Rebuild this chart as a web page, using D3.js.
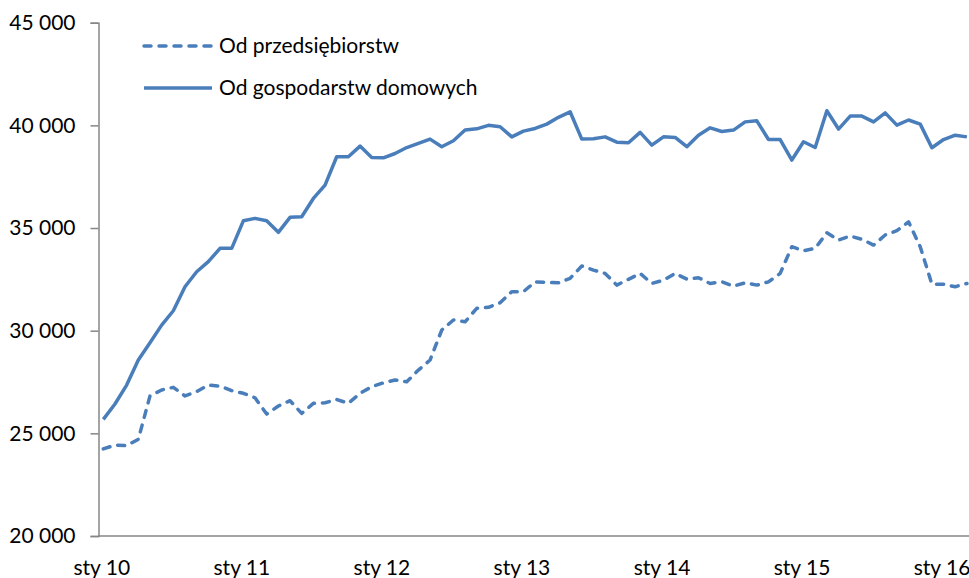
<!DOCTYPE html>
<html>
<head>
<meta charset="utf-8">
<script src="https://cdn.jsdelivr.net/npm/d3@7"></script>
<style>
  body { margin: 0; background: #fff; }
  text { font-family: Lato, "Open Sans", sans-serif; fill: #000; }
</style>
</head>
<body>
<div id="chart"></div>
<script>
// monthly values, Jan 2010 - Mar 2016
const przedsiebiorstwa = [
  24240, 24430, 24400, 24710, 26820, 27110, 27240, 26820, 27030, 27350, 27300, 27080,
  26950, 26730, 25940, 26330, 26590, 25970, 26460, 26490, 26650, 26460, 26950, 27270,
  27460, 27600, 27510, 28080, 28570, 30030, 30520, 30430, 31090, 31140, 31360, 31900,
  31900, 32380, 32350, 32330, 32550, 33150, 32950, 32790, 32220, 32500, 32790, 32300,
  32460, 32790, 32510, 32580, 32300, 32380, 32170, 32330, 32220, 32380, 32790, 34090,
  33890, 34010, 34770, 34410, 34610, 34450, 34170, 34660, 34870, 35300, 34090, 32270,
  32260, 32140, 32300
];
const gospodarstwa = [
  25680, 26430, 27350, 28570, 29410, 30270, 30970, 32140, 32870, 33360, 34010, 34010,
  35350, 35470, 35350, 34790, 35520, 35550, 36440, 37090, 38470, 38470, 38990, 38440,
  38420, 38630, 38920, 39120, 39330, 38960, 39250, 39770, 39830, 40000, 39930, 39440,
  39720, 39850, 40060, 40390, 40660, 39330, 39350, 39440, 39180, 39150, 39660, 39040,
  39440, 39410, 38960, 39520, 39880, 39700, 39770, 40170, 40220, 39310, 39310, 38310,
  39200, 38920, 40710, 39820, 40450, 40450, 40170, 40610, 40010, 40260, 40060, 38910,
  39310, 39520, 39440
];
const xLabels = ["sty 10", "sty 11", "sty 12", "sty 13", "sty 14", "sty 15", "sty 16"];
const yTicks = [20000, 25000, 30000, 35000, 40000, 45000];
const seriesNames = ["Od przedsiębiorstw", "Od gospodarstw domowych"];

let width = 969,
  height = 578;
let blue = "#4a7ebb",
  axisColor = "#868686";

let svg = d3.select("#chart").append("svg")
  .attr("width", width)
  .attr("height", height);

let x = d3.scaleLinear()
  .domain([0, przedsiebiorstwa.length - 1])
  .range([103.3, 966.9]);

let y = d3.scaleLinear()
  .domain([20000, 45000])
  .range([536, 22.7]);

let fmt = d3.formatLocale({ decimal: ",", thousands: " ", grouping: [3], currency: ["", ""] }).format(",d");

// y axis
let yAxis = svg.append("g")
  .attr("transform", "translate(98.5,0)")
  .call(d3.axisLeft(y).tickValues(yTicks).tickFormat(fmt).tickSize(8).tickPadding(15));
yAxis.select(".domain").attr("stroke", axisColor).attr("stroke-width", 1.5);
yAxis.selectAll(".tick line").attr("stroke", axisColor).attr("stroke-width", 1.5);
yAxis.selectAll(".tick text")
  .attr("font-size", 21)
  .attr("font-family", "Lato, sans-serif")
  .attr("fill", "#000");

// x axis
let xAxis = svg.append("g")
  .attr("transform", "translate(0,536)")
  .call(d3.axisBottom(x)
    .tickValues(xLabels.map((d, i) => i * 12))
    .tickFormat((d, i) => xLabels[i])
    .tickSize(0)
    .tickPadding(24));
xAxis.select(".domain")
  .attr("d", "M98.5,0H" + width)
  .attr("stroke", axisColor).attr("stroke-width", 1.5);
xAxis.selectAll(".tick text")
  .attr("font-size", 21)
  .attr("font-family", "Lato, sans-serif")
  .attr("fill", "#000")
  .attr("dx", -2);

let line = d3.line()
  .x((d, i) => x(i))
  .y(d => y(d));

svg.append("path")
  .datum(gospodarstwa)
  .attr("fill", "none")
  .attr("stroke", blue)
  .attr("stroke-width", 3.5)
  .attr("stroke-linejoin", "round")
  .attr("d", line);

svg.append("path")
  .datum(przedsiebiorstwa)
  .attr("fill", "none")
  .attr("stroke", blue)
  .attr("stroke-width", 3.5)
  .attr("stroke-linejoin", "round")
  .attr("stroke-linecap", "round")
  .attr("stroke-dasharray", "7,8")
  .attr("d", line);

// legend
let legend = svg.append("g");
let legendY = [46, 88];
seriesNames.forEach(function(name, i) {
  legend.append("line")
    .attr("x1", 144).attr("x2", 212)
    .attr("y1", legendY[i]).attr("y2", legendY[i])
    .attr("stroke", blue)
    .attr("stroke-width", 3.5)
    .attr("stroke-linecap", i === 0 ? "round" : "butt")
    .attr("stroke-dasharray", i === 0 ? "7,8" : null);
  legend.append("text")
    .attr("x", 219)
    .attr("y", legendY[i])
    .attr("dy", "0.35em")
    .attr("font-size", 21)
    .text(name);
});
</script>
</body>
</html>
